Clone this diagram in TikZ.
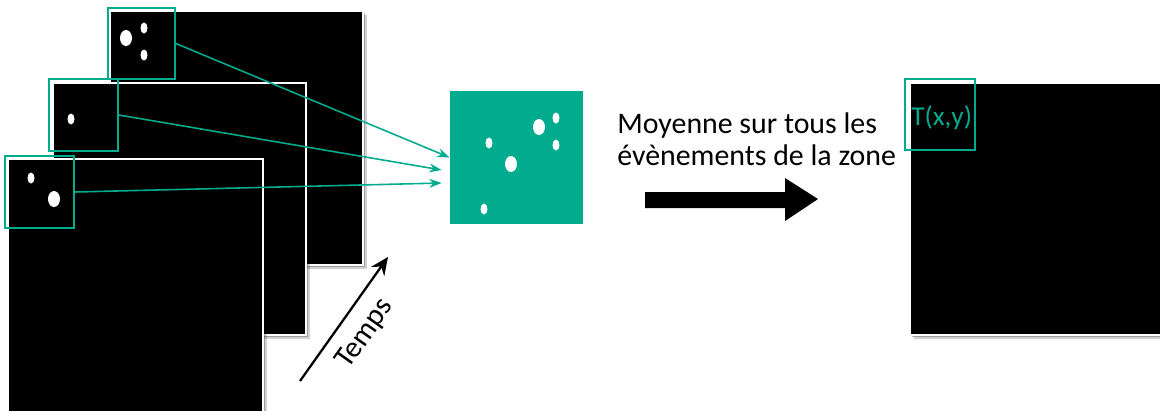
\documentclass[tikz,border=0pt]{standalone}
\usepackage{fontspec}
\setmainfont{Carlito}
\usetikzlibrary{arrows.meta,positioning,fit,calc,shadows}
\definecolor{zoneteal}{RGB}{0,171,142}
\tikzset{
  frame/.style={fill=black, draw=white, line width=1.1pt, inner sep=0pt,
    drop shadow={shadow xshift=2pt, shadow yshift=-2pt, opacity=.18, fill=black},
    drop shadow={shadow xshift=1pt, shadow yshift=-1pt, opacity=.25, fill=black}},
  zone/.style={draw=zoneteal, line width=1pt, inner sep=0pt},
  link/.style={zoneteal, line width=.9pt, -{Stealth[length=7pt,width=5pt]}},
}

\begin{document}
\begin{tikzpicture}[x=0.02cm, y=-0.02cm, font=\fontsize{17}{18.2}\selectfont]
  \useasboundingbox (0,0) rectangle (1160,410);
  % pile d'images dans le temps
  \node[frame, fit={(110,11) (363,265)}] (f3) {};
  \node[frame, fit={(53,83) (306,335)}] (f2) {};
  \node[frame, fit={(8,159) (263,430)}] (f1) {};
  % zones observees
  \node[zone, fit={(108,8) (175,79)}] (z3) {};
  \node[zone, fit={(49,79) (118,151)}] (z2) {};
  \node[zone, fit={(5,156) (74,228)}] (z1) {};
  % zone moyenne
  \node[fill=zoneteal, inner sep=0pt, fit={(450,91) (583,224)}] (moy) {};
  % evenements (petits et gros)
  \foreach \p in {(144,28),(144,55),(71,119),(31,178),(489,143),(556,118),(556,145),(484,209)} {
    \fill[white] \p ellipse [x radius=3.5, y radius=5.5];
  }
  \foreach \p in {(126,38),(54,199),(511,164),(539,127)} {
    \fill[white] \p ellipse [x radius=6, y radius=8];
  }
  \draw[link] (z3.east) -- (moy.west);
  \draw[link] (z2.east) -- ($(moy.west)+(-8,12.5)$);
  \draw[link] (z1.east) -- ($(moy.west)+(-8,25.5)$);
  % axe du temps
  \coordinate (t0) at (300,381);
  \coordinate (t1) at (388,257);
  \draw[line width=1.3pt, -{Stealth[length=10pt,width=9pt]}] (t0) -- (t1)
    node[midway, below=4pt, sloped] (temps) {Temps};
  % moyenne
  \node[anchor=west, align=left, inner sep=0pt] (txt) at (617,139)
    {Moyenne sur tous les\\évènements de la zone};
  \fill (645,192) -- (785,192) -- (785,178) -- (818,199) -- (785,221) -- (785,208) -- (645,208) -- cycle;
  % carte resultat
  \node[frame, fit={(910,83) (1180,335)}] (fT) {};
  \node[zone, fit={(905,79) (975,150)}] (zT) {};
  \node[anchor=west, inner sep=0pt, text=zoneteal, font=\fontsize{15.5}{18}\selectfont] (tT) at (911,118) {T(x,y)};
\end{tikzpicture}
\end{document}
